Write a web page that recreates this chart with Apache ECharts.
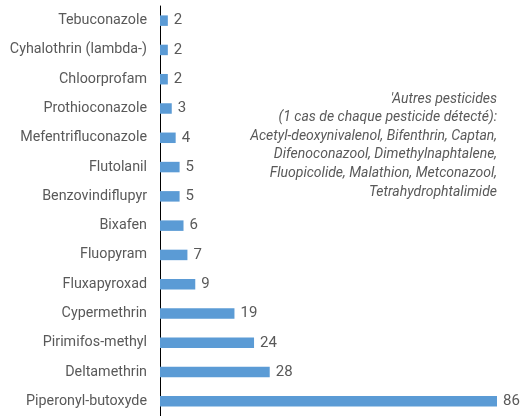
<!DOCTYPE html>
<html>
<head>
<meta charset="utf-8">
<script src="https://cdn.jsdelivr.net/npm/echarts@6/dist/echarts.min.js"></script>
<style>
  html, body { margin: 0; padding: 0; background: #fff; }
  #chart { width: 523px; height: 416px; }
</style>
</head>
<body>
<div id="chart"></div>
<script>
// données (de haut en bas)
const pesticides = [
  'Tebuconazole', 'Cyhalothrin (lambda-)', 'Chloorprofam', 'Prothioconazole',
  'Mefentrifluconazole', 'Flutolanil', 'Benzovindiflupyr', 'Bixafen',
  'Fluopyram', 'Fluxapyroxad', 'Cypermethrin', 'Pirimifos-methyl',
  'Deltamethrin', 'Piperonyl-butoxyde'
];
const cas = [2, 2, 2, 3, 4, 5, 5, 6, 7, 9, 19, 24, 28, 86];

const noteLines = [
  "'Autres pesticides",
  '(1 cas de chaque pesticide détecté):',
  'Acetyl-deoxynivalenol, Bifenthrin, Captan,',
  'Difenoconazool, Dimethylnaphtalene,',
  'Fluopicolide, Malathion, Metconazool,',
  'Tetrahydrophtalimide'
];

let chartDom = document.getElementById('chart');
let mychart = echarts.init(chartDom);

let option = {
  animation: false,
  textStyle: { fontFamily: 'Roboto' },
  grid: { left: 160, top: 6, width: 337, height: 415 },
  xAxis: {
    type: 'value',
    min: 0,
    max: 86,
    show: false
  },
  yAxis: {
    type: 'category',
    inverse: true,
    data: pesticides,
    axisLine: { show: true, lineStyle: { color: '#000', width: 1 } },
    axisTick: { show: false },
    axisLabel: { color: '#595959', fontSize: 14.3, margin: 13 }
  },
  series: [
    {
      type: 'bar',
      data: cas,
      barWidth: 10.5,
      itemStyle: { color: '#5B9BD5' },
      label: {
        show: true,
        position: 'right',
        distance: 6,
        color: '#595959',
        fontSize: 15
      }
    }
  ],
  // note sur les autres pesticides
  graphic: noteLines.map(function (t, i) {
    return {
      type: 'text',
      right: 26,
      top: 92 + i * 18.6,
      style: {
        text: t,
        fill: '#595959',
        font: 'italic 14px Roboto',
        textAlign: 'right'
      }
    };
  })
};
option && mychart.setOption(option);
</script>
</body>
</html>
